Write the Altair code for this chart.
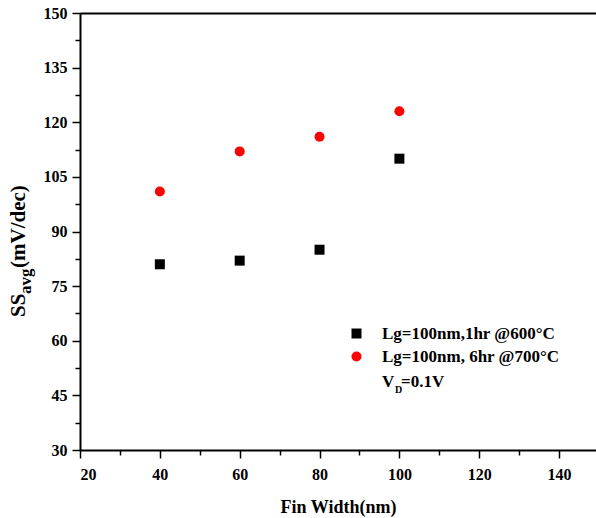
import altair as alt
import pandas as pd

fin_width = [40, 60, 80, 100]
ss_600 = [81, 82, 85, 110]
ss_700 = [101, 112, 116, 123]
series_names = ["Lg=100nm,1hr @600°C", "Lg=100nm, 6hr @700°C"]
x_ticks = [20, 30, 40, 50, 60, 70, 80, 90, 100, 110, 120, 130, 140]
y_ticks = [30, 37.5, 45, 52.5, 60, 67.5, 75, 82.5, 90, 97.5, 105, 112.5, 120, 127.5, 135, 142.5, 150]

rows = []
for xv, yv in zip(fin_width, ss_600):
    rows.append({"w": xv, "ss": yv, "series": series_names[0]})
for xv, yv in zip(fin_width, ss_700):
    rows.append({"w": xv, "ss": yv, "series": series_names[1]})
df = pd.DataFrame(rows)

FONT = "Liberation Serif"
W, H = 516, 437

xscale = alt.Scale(domain=[20, 149.25], nice=False, zero=False)
yscale = alt.Scale(domain=[30, 150], nice=False, zero=False)

legend = alt.Legend(
    title=None, orient="none", legendX=268, legendY=312,
    labelFont=FONT, labelFontSize=17, labelFontWeight="bold", labelColor="black",
    symbolSize=100, rowPadding=5, labelOffset=17, padding=0, symbolStrokeWidth=0,
    labelLimit=400,
)

points = alt.Chart(df).mark_point(filled=True, size=100, opacity=1).encode(
    x=alt.X("w:Q", scale=xscale, axis=alt.Axis(
        values=x_ticks, title="Fin Width(nm)",
        labelExpr="datum.value % 20 == 0 ? datum.label : ''",
        labelOverlap=False,
        tickSize={"condition": {"test": "datum.value % 20 == 0", "value": 8}, "value": 5},
        tickColor="black", tickWidth=1.5, domainColor="black", domainWidth=2,
        labelFont=FONT, labelFontSize=16, labelFontWeight="bold", labelColor="black",
        labelPadding=8, grid=False,
        titleFont=FONT, titleFontSize=18, titleFontWeight="bold", titleColor="black",
        titlePadding=16)),
    y=alt.Y("ss:Q", scale=yscale, axis=alt.Axis(
        values=y_ticks, title=None,
        labelExpr="datum.value % 15 == 0 ? datum.label : ''",
        labelOverlap=False,
        tickSize={"condition": {"test": "datum.value % 15 == 0", "value": 8}, "value": 5},
        tickColor="black", tickWidth=1.5, domainColor="black", domainWidth=2,
        labelFont=FONT, labelFontSize=16, labelFontWeight="bold", labelColor="black",
        labelPadding=5, grid=False)),
    color=alt.Color("series:N", scale=alt.Scale(domain=series_names, range=["black", "red"]),
                    legend=legend),
    shape=alt.Shape("series:N", scale=alt.Scale(domain=series_names, range=["square", "circle"]),
                    legend=legend),
)

top_frame = alt.Chart(df).mark_point(opacity=0).encode(
    x=alt.X("w:Q", scale=xscale, axis=alt.Axis(orient="top", labels=False, ticks=False,
                                                title=None, domainColor="black", domainWidth=2, grid=False)),
)

# Y axis title pieces: SS, subscript avg, (mV/dec)
ytitle = pd.DataFrame({
    "t": ["SS", "avg", "(mV/dec)"],
    "xp": [-55, -49, -55],
    "yp": [304, 281, 255],
    "fs": [21, 17, 21],
})
ytitle_layers = []
for i in range(3):
    ytitle_layers.append(
        alt.Chart(ytitle.iloc[[i]]).mark_text(
            angle=270, align="left", baseline="alphabetic", font=FONT, fontWeight="bold",
            fontSize=int(ytitle["fs"][i]), color="black"
        ).encode(text="t:N", x=alt.value(int(ytitle["xp"][i])), y=alt.value(int(ytitle["yp"][i])))
    )

vd = pd.DataFrame({
    "t": ["V", "D", "=0.1V"],
    "xp": [302, 315, 321],
    "yp": [374, 380, 374],
    "fs": [17, 10, 17],
})
vd_layers = []
for i in range(3):
    vd_layers.append(
        alt.Chart(vd.iloc[[i]]).mark_text(
            align="left", baseline="alphabetic", font=FONT, fontWeight="bold",
            fontSize=int(vd["fs"][i]), color="black"
        ).encode(text="t:N", x=alt.value(int(vd["xp"][i])), y=alt.value(int(vd["yp"][i])))
    )

chart = alt.layer(points, top_frame, *ytitle_layers, *vd_layers).resolve_axis(
    x="independent"
).properties(
    width=W, height=H,
    autosize=alt.AutoSizeParams(type="none"),
    padding={"left": 80, "top": 13, "right": 0, "bottom": 68},
    background="white",
).configure_view(stroke=None)

chart.save("out.html", embed_options={"renderer": "svg", "actions": False})
